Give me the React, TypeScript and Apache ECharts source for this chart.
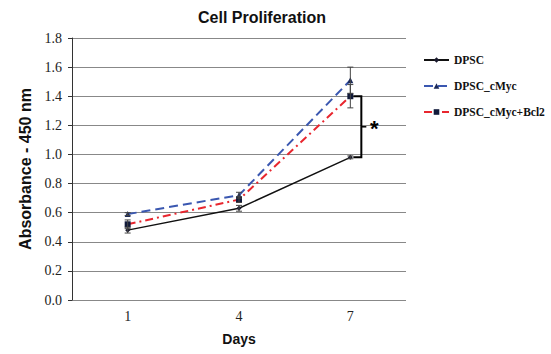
import React, { useEffect, useRef } from "react";
import * as echarts from "echarts";

const days = ["1", "4", "7"];
const dpsc = [0.48, 0.63, 0.98];
const cmyc = [0.59, 0.72, 1.51];
const bcl2 = [0.52, 0.69, 1.40];
const dpscErr = [0.02, 0.02, 0.01];
const cmycErr = [0.01, 0.02, 0.09];
const bcl2Err = [0.03, 0.02, 0.08];
const yTicks = [0, 0.2, 0.4, 0.6, 0.8, 1.0, 1.2, 1.4, 1.6, 1.8];

const serif = "Liberation Serif";
const sans = "Liberation Sans";

function errData(vals: number[], errs: number[]) {
  return vals.map((v, i) => [i, v - errs[i], v + errs[i]]);
}

const errRender = (params: any, api: any) => {
  const x = api.value(0);
  const lo = api.coord([x, api.value(1)]);
  const hi = api.coord([x, api.value(2)]);
  const w = 3;
  const style = { stroke: "#444", lineWidth: 1 };
  return {
    type: "group",
    children: [
      { type: "line", shape: { x1: lo[0], y1: lo[1], x2: hi[0], y2: hi[1] }, style },
      { type: "line", shape: { x1: lo[0] - w, y1: lo[1], x2: lo[0] + w, y2: lo[1] }, style },
      { type: "line", shape: { x1: hi[0] - w, y1: hi[1], x2: hi[0] + w, y2: hi[1] }, style },
    ],
  };
};

export default function App() {
  const ref = useRef<HTMLDivElement>(null);
  useEffect(() => {
    document.body.style.margin = "0";
    if (!ref.current) return;
    const chart = echarts.init(ref.current, undefined, { renderer: "svg" });
    chart.setOption({
      animation: false,
      title: {
        text: "Cell Proliferation",
        left: 193,
        top: 4,
        textStyle: { fontFamily: sans, fontSize: 16, fontWeight: "bold", color: "#111" },
      },
      legend: {
        orient: "vertical",
        left: 423,
        top: 53,
        padding: 0,
        itemWidth: 25,
        itemHeight: 7,
        itemGap: 12,
        data: ["DPSC", "DPSC_cMyc", "DPSC_cMyc+Bcl2"],
        textStyle: { fontFamily: serif, fontSize: 11.5, fontWeight: "bold", color: "#111", lineHeight: 14 },
      },
      grid: { left: 72, right: 145, top: 38, bottom: 54 },
      xAxis: {
        type: "category",
        data: days,
        boundaryGap: true,
        name: "Days",
        nameLocation: "middle",
        nameGap: 32,
        nameTextStyle: { fontFamily: sans, fontSize: 14, fontWeight: "bold", color: "#111" },
        axisLine: { show: false },
        axisTick: { show: false },
        axisLabel: { fontFamily: serif, fontSize: 14, color: "#222", margin: 9 },
      },
      yAxis: {
        type: "value",
        min: yTicks[0],
        max: yTicks[yTicks.length - 1],
        interval: 0.2,
        name: "Absorbance - 450 nm",
        nameLocation: "middle",
        nameGap: 37,
        nameTextStyle: { fontFamily: sans, fontSize: 16, fontWeight: "bold", color: "#111" },
        axisLine: { show: true, lineStyle: { color: "#333", width: 1 } },
        axisTick: { show: true, length: 4, lineStyle: { color: "#333" } },
        axisLabel: {
          fontFamily: serif,
          fontSize: 14,
          color: "#222",
          margin: 10,
          formatter: (v: number) => v.toFixed(1),
        },
        splitLine: { show: true, lineStyle: { color: "#888", width: 1 } },
      },
      series: [
        {
          name: "DPSC",
          type: "line",
          data: dpsc,
          symbol: "diamond",
          symbolSize: 5,
          itemStyle: { color: "#1a1a2e" },
          lineStyle: { color: "#111", width: 1.5, type: "solid" },
          z: 3,
        },
        {
          name: "DPSC_cMyc",
          type: "line",
          data: cmyc,
          symbol: "triangle",
          symbolSize: 6,
          itemStyle: { color: "#1b2a5a" },
          lineStyle: { color: "#3a57b0", width: 2, type: [9, 5] },
          z: 3,
        },
        {
          name: "DPSC_cMyc+Bcl2",
          type: "line",
          data: bcl2,
          symbol: "rect",
          symbolSize: 6,
          itemStyle: { color: "#111a3a" },
          lineStyle: { color: "#e8262e", width: 2, type: [8, 4, 2, 4] },
          z: 3,
        },
        { type: "custom", renderItem: errRender, data: errData(dpsc, dpscErr), z: 4 },
        { type: "custom", renderItem: errRender, data: errData(cmyc, cmycErr), z: 4 },
        { type: "custom", renderItem: errRender, data: errData(bcl2, bcl2Err), z: 4 },
        {
          type: "custom",
          z: 5,
          data: [[2, bcl2[2], dpsc[2]]],
          renderItem: (params: any, api: any) => {
            const x = api.value(0);
            const top = api.coord([x, api.value(1)]);
            const bot = api.coord([x, api.value(2)]);
            const x0 = top[0] + 3;
            const x1 = top[0] + 11;
            const mid = (top[1] + bot[1]) / 2;
            return {
              type: "group",
              children: [
                {
                  type: "polyline",
                  shape: { points: [[x0, top[1]], [x1, top[1]], [x1, bot[1]], [x0, bot[1]]] },
                  style: { stroke: "#000", lineWidth: 2, fill: "none" },
                },
                {
                  type: "line",
                  shape: { x1: x1, y1: mid, x2: x1 + 5, y2: mid },
                  style: { stroke: "#000", lineWidth: 1.5 },
                },
                {
                  type: "text",
                  x: x1 + 13,
                  y: mid + 2,
                  style: {
                    text: "*",
                    fontFamily: sans,
                    fontSize: 22,
                    fontWeight: "bold",
                    fill: "#000",
                    align: "center",
                    verticalAlign: "middle",
                  },
                },
              ],
            };
          },
        },
      ],
    });
    return () => chart.dispose();
  }, []);
  return <div ref={ref} style={{ width: 551, height: 354 }} />;
}
